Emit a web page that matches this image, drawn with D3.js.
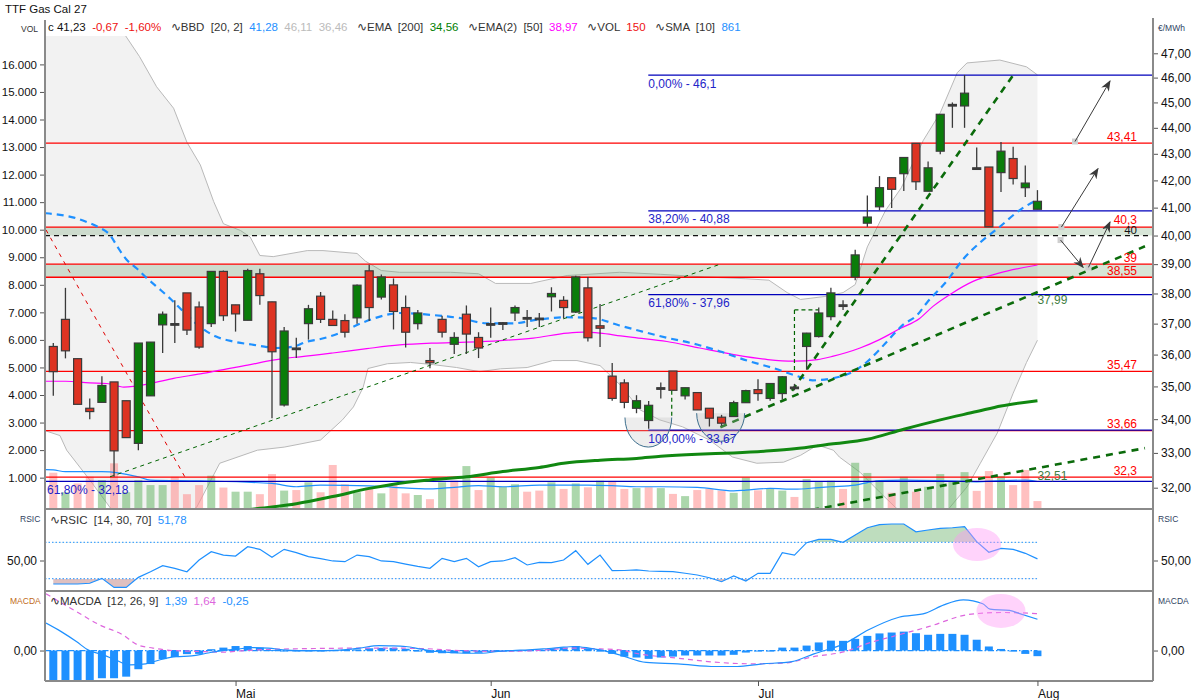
<!DOCTYPE html>
<html>
<head>
<meta charset="utf-8">
<script src="https://cdn.jsdelivr.net/npm/d3@7"></script>
<style>
  body { margin: 0; background: #fff; }
  svg text { font-family: "Liberation Sans", Arial, sans-serif; }
</style>
</head>
<body>
<svg id="chart" width="1200" height="700"></svg>
<script>
// ---- data (x = trading-day index) ----
const title = "TTF Gas Cal 27";
const monthTicks = [15, 36, 58, 81];
const monthLabels = ["Mai", "Jun", "Jul", "Aug"];
const priceTicks = [32, 33, 34, 35, 36, 37, 38, 39, 40, 41, 42, 43, 44, 45, 46, 47];
const volTicks = [1000, 2000, 3000, 4000, 5000, 6000, 7000, 8000, 9000, 10000, 11000, 12000, 13000, 14000, 15000, 16000];

const open = [36.26, 37.14, 35.87, 34.33, 34.51, 35.14, 34.56, 33.28, 34.71, 36.96,
  37.0, 38.02, 37.55, 37.0, 38.75, 37.62, 37.11, 38.67, 37.72, 34.43,
  36.21, 37.0, 37.91, 37.14, 37.10, 37.19, 38.77, 37.88, 38.29, 37.53,
  37.0, 35.81, 37.14, 36.33, 37.31, 36.55, 37.0, 37.0, 37.35, 37.20,
  37.18, 37.89, 37.77, 37.38, 38.19, 36.93, 35.32, 35.11, 34.33, 33.96,
  34.96, 35.48, 34.71, 34.81, 34.33, 34.06, 34.08, 34.5, 34.90, 34.63,
  34.78, 34.98, 36.26, 36.58, 37.23, 37.62, 38.56, 40.44, 41.03, 42.1,
  42.25, 43.4, 41.6, 43.1, 44.92, 44.86, 42.47, 42.5, 42.29, 42.82,
  41.73, 40.94];
const high = [36.37, 38.19, 35.87, 34.63, 35.32, 35.14, 34.56, 36.37, 36.40, 37.40,
  37.77, 38.02, 37.73, 38.75, 38.78, 37.62, 38.84, 38.84, 37.72, 36.89,
  36.54, 37.62, 38.05, 37.43, 37.31, 38.3, 38.98, 38.64, 38.51, 37.93,
  37.45, 36.21, 37.26, 36.72, 37.60, 36.72, 37.53, 37.05, 37.6, 37.45,
  37.35, 38.21, 37.91, 38.6, 38.56, 37.65, 35.73, 35.22, 34.73, 34.55,
  35.12, 35.48, 34.96, 34.81, 34.33, 34.13, 34.56, 34.9, 35.22, 35.1,
  35.32, 35.08, 36.7, 37.53, 38.19, 37.77, 39.5, 41.44, 42.16, 42.1,
  42.86, 43.4, 42.71, 44.53, 45.0, 46.11, 43.24, 42.5, 43.45, 43.27,
  42.56, 41.64];
const low = [34.71, 35.88, 34.45, 34.0, 34.51, 32.31, 33.45, 33.08, 34.71, 36.05,
  36.37, 36.63, 36.19, 36.89, 37.09, 36.74, 37.11, 37.62, 34.03, 34.38,
  35.89, 36.48, 37.02, 36.94, 36.55, 37.0, 37.09, 37.8, 36.81, 36.23,
  36.81, 35.57, 36.55, 36.02, 36.02, 35.89, 36.54, 36.79, 37.09, 36.89,
  36.89, 37.40, 37.17, 37.35, 36.42, 36.24, 34.56, 34.33, 34.18, 33.71,
  34.63, 34.88, 34.6, 34.28, 33.78, 33.8, 34.08, 34.5, 34.56, 34.56,
  34.6, 34.88, 35.52, 36.55, 37.11, 37.45, 38.45, 40.31, 40.90, 40.99,
  41.61, 41.64, 41.6, 42.98, 44.0, 44.0, 42.42, 40.31, 41.57, 41.85,
  41.39, 40.94];
const close = [35.46, 36.12, 34.45, 34.23, 35.03, 33.06, 33.45, 36.37, 36.40, 37.31,
  37.0, 36.79, 36.24, 38.75, 37.26, 37.32, 38.78, 37.93, 36.09, 36.76,
  36.21, 37.49, 37.14, 36.94, 36.72, 38.28, 37.53, 38.56, 37.40, 36.72,
  37.35, 35.74, 36.72, 36.55, 36.66, 36.21, 37.0, 37.03, 37.53, 37.20,
  37.18, 38.0, 37.53, 38.56, 36.54, 36.85, 34.63, 34.51, 34.56, 34.42,
  34.96, 34.88, 34.96, 34.28, 34.03, 33.88, 34.5, 34.87, 34.78, 35.09,
  35.30, 34.98, 36.69, 37.35, 38.02, 37.62, 39.32, 40.66, 41.73, 41.67,
  42.86, 41.95, 42.47, 44.53, 44.86, 45.37, 42.42, 40.31, 43.1, 42.07,
  41.90, 41.23];
const volume = [1180, 470, 790, 1030, 910, 1520, 470, 910, 730, 730,
  1030, 400, 730, 1070, 640, 490, 490, 400, 1130, 530,
  550, 830, 470, 1460, 760, 470, 640, 430, 790, 430,
  370, 220, 830, 890, 1420, 550, 1000, 670, 760, 490,
  530, 830, 590, 790, 650, 890, 880, 590, 620, 650,
  620, 410, 330, 550, 590, 530, 450, 1010, 540, 610,
  530, 300, 950, 840, 890, 590, 1540, 1170, 910, 450,
  1030, 490, 670, 1130, 870, 1200, 520, 1240, 1060, 730,
  1280, 150];

// indicator curves as [index, value] points
const volSma = [[-0.6, 1290], [0, 1280], [1, 1220], [4, 1220], [7, 1030], [8, 910], [12, 880], [18, 790], [20, 670],
  [22, 730], [26, 700], [28, 650], [31, 590], [33, 650], [35, 710], [37, 670], [40, 730], [44, 730], [46, 710],
  [48, 670], [50, 670], [53, 650], [56, 520], [57, 550], [59, 610], [61, 580], [63, 640], [64, 670], [66, 730],
  [67, 820], [68, 890], [70, 910], [73, 890], [76, 850], [78, 890], [80, 910], [81, 861]];
const bbUpper = [[-0.7, 50.5], [3, 49.5], [5.9, 47.77], [7.1, 46.86], [8.5, 45.63], [9.9, 44.77], [11, 43.44],
  [12.1, 42.58], [13.2, 41.22], [14, 40.42], [15.4, 40.18], [16.2, 39.95], [17, 39.3], [18.1, 39.26], [20.9, 39.47],
  [22.2, 39.47], [23.6, 39.42], [25, 39.37], [25.7, 39.1], [27, 38.78], [28.5, 38.72], [32.7, 38.72], [35, 38.67],
  [36.4, 38.34], [39.3, 38.34], [42.3, 38.61], [43.6, 38.64], [46.6, 38.72], [50, 38.65], [53.6, 38.56],
  [57, 38.5], [58.9, 38.45], [60.4, 38.03], [61.5, 37.8], [63.5, 37.9], [65, 38.03], [66, 38.3], [67, 39.6],
  [68.5, 40.9], [69.8, 41.73], [71.6, 43.51], [73, 44.59], [74.4, 46.2], [75.2, 46.6], [77.9, 46.72],
  [80.1, 46.44], [81, 46.11]];
const bbLower = [[-0.7, 33.66], [0.55, 33.51], [1.1, 33.08], [3, 32.22], [4.7, 31.43], [6, 31.0], [9, 30.9],
  [11.8, 31.45], [13.7, 32.7], [16.8, 33.08], [19, 33.17], [20.3, 33.26], [22, 33.38], [23.8, 33.98], [24.7, 34.37],
  [25.5, 34.97], [25.9, 35.56], [27.5, 35.71], [29.4, 35.75], [31.3, 35.68], [33.2, 35.59], [35.1, 35.46],
  [36.8, 35.55], [39, 35.59], [41.1, 35.81], [43.1, 35.81], [45, 35.65], [46.7, 35.03], [48.3, 34.28],
  [49.9, 33.98], [51.8, 33.77], [54, 33.38], [55.9, 32.88], [57.9, 32.7], [60.1, 32.73], [61.5, 32.93],
  [62.9, 33.23], [64.2, 33.08], [64.7, 32.88], [66.4, 32.44], [68, 31.88], [69.3, 31.45], [71, 31.0],
  [72.5, 30.9], [73.8, 31.45], [75.2, 32.02], [76.3, 32.7], [77.7, 33.59], [79, 34.79], [80.1, 35.75], [81, 36.46]];
const bbMid = [[-0.7, 40.8], [0.55, 40.74], [1.6, 40.65], [2.7, 40.49], [3.7, 40.3], [4.7, 40.0], [5.3, 39.59],
  [6, 39.17], [6.9, 38.84], [7.7, 38.52], [8.8, 38.13], [9.7, 37.8], [11, 37.28], [12.1, 36.89], [13.4, 36.58],
  [14.8, 36.42], [16.5, 36.31], [17.6, 36.24], [18.4, 36.21], [19.8, 36.26], [20.9, 36.42], [22, 36.5],
  [23.6, 36.7], [25.5, 37.04], [27.7, 37.31], [28.5, 37.35], [31.3, 37.28], [33.5, 37.18], [35.7, 37.01],
  [37.8, 37.01], [40, 37.14], [42.3, 37.21], [44.4, 37.18], [46.6, 36.94], [48.3, 36.76], [50.5, 36.54],
  [52.7, 36.35], [54.9, 36.1], [57.1, 35.81], [59.2, 35.58], [61.5, 35.29], [62.5, 35.19], [64.7, 35.3],
  [65.8, 35.45], [67, 35.78], [68, 36.16], [68.9, 36.54], [69.9, 36.95], [71.1, 37.28], [71.9, 37.69],
  [73.6, 38.45], [74.9, 39.18], [76.3, 39.76], [77.9, 40.31], [79.6, 40.93], [81, 41.28]];
const ema200 = [[14, 31.3], [17, 31.42], [20, 31.55], [23, 31.75], [26, 31.98], [28, 32.1], [31, 32.22],
  [34, 32.31], [37, 32.46], [40, 32.58], [42, 32.7], [45, 32.79], [48, 32.84], [50, 32.9], [53, 32.96],
  [56, 33.0], [59, 33.06], [61, 33.12], [64, 33.26], [67, 33.4], [70, 33.7], [73, 33.98], [76, 34.23],
  [78, 34.4], [81, 34.56]];
const ema50 = [[-0.7, 35.16], [1, 35.16], [3, 35.11], [4.4, 35.09], [5.8, 34.98], [6.6, 35.0], [8, 35.09],
  [9.9, 35.25], [12.1, 35.39], [14.3, 35.55], [16.2, 35.68], [17.6, 35.79], [19.2, 35.89], [20.3, 35.93],
  [23, 36.05], [25.8, 36.19], [28.5, 36.31], [31.3, 36.37], [34, 36.4], [36.8, 36.45], [39.5, 36.53],
  [42.3, 36.69], [43.6, 36.72], [45, 36.69], [46.7, 36.6], [47.7, 36.55], [50.5, 36.42], [53.2, 36.21],
  [56, 36.0], [58.8, 35.84], [60.9, 35.79], [62.9, 35.84], [64.2, 35.95], [66.4, 36.21], [68, 36.48],
  [69.7, 36.84], [71.3, 37.17], [72.4, 37.57], [74, 38.02], [75.7, 38.41], [77.9, 38.7], [81, 38.97]];

const rsi = [24.2, 24.2, 24.2, 25, 30.4, 20.5, 20.5, 31.5, 37.7, 44.3,
  41.4, 37.7, 50.5, 59.7, 56.0, 54.9, 65.2, 62.3, 53.5, 62.3,
  58.6, 54.2, 52, 49.5, 48.7, 56.0, 54.2, 49.5, 48.7, 46,
  43.5, 41.4, 52.4, 48.7, 52.4, 43.2, 48.7, 49.5, 53.1, 45.1,
  48.0, 47.6, 50.5, 60.8, 45.8, 56.0, 38.8, 39, 39.6, 38.5,
  38, 37.7, 36, 34.1, 31.1, 26.7, 33.0, 27.5, 35.9, 35.9,
  58.6, 56.0, 69.6, 73.3, 73.3, 70.0, 78.0, 86, 89.5, 90.1,
  90.1, 81.6, 83.5, 85.4, 86, 87.1, 70.7, 59.0, 63.4, 62.3,
  57.9, 51.78];
const macdLine = [[-0.6, 1.22], [0.65, 0.84], [1.9, 0.4], [2.85, 0.03], [4.1, -0.19], [5.1, -0.41], [6.3, -0.64],
  [7.6, -0.59], [8.8, -0.41], [10.1, -0.27], [11.4, -0.24], [12.6, -0.12], [13.9, 0], [15.1, 0.06],
  [16.4, 0.13], [17.7, 0.11], [18.9, 0.03], [20.2, 0], [22.9, 0], [23.9, 0.03], [25.2, 0.11], [26.8, 0.22],
  [27.7, 0.21], [29, 0.18], [30.3, 0.06], [31.5, -0.04], [32.8, -0.09], [34, -0.12], [35.3, -0.12],
  [36.6, -0.04], [37.8, 0], [39.1, 0.03], [40.3, 0.07], [41.6, 0.13], [42.9, 0.18], [44.1, 0.11], [45, 0.03],
  [46.6, -0.19], [48.8, -0.53], [51.4, -0.59], [54.5, -0.71], [56.3, -0.71], [58.2, -0.6], [60.8, -0.49],
  [62.6, -0.15], [65.2, 0.33], [67.1, 0.92], [69.6, 1.48], [71.8, 1.66], [73.3, 2.03], [74.9, 2.25],
  [76.5, 2.08], [77.1, 1.84], [78.7, 1.78], [79.6, 1.63], [81, 1.39]];
const macdSignal = [[-0.6, 2.52], [1.9, 1.73], [3.8, 1.14], [5.7, 0.7], [6.95, 0.25], [8.2, 0.11], [9.8, 0],
  [12, -0.04], [13.9, -0.07], [15.8, 0], [18.3, 0.06], [27.1, 0.11], [30.3, 0.09], [33.4, 0], [36.6, -0.04],
  [39.7, 0], [42.9, 0.11], [45, 0.07], [46.6, 0.03], [48.2, -0.15], [51.4, -0.34], [53.9, -0.49],
  [57.6, -0.59], [60.1, -0.56], [62.6, -0.27], [65.2, -0.04], [67.1, 0.33], [69.6, 0.7], [72.1, 1.07],
  [75.2, 1.59], [76.5, 1.66], [78.1, 1.69], [81, 1.64]];
const macdHist = [-1.32, -1.33, -1.35, -1.33, -1.23, -1.23, -1.16, -0.83, -0.6, -0.38,
  -0.29, -0.16, -0.15, 0.06, 0.13, 0.2, 0.2, 0.13, 0.02, -0.02,
  0, 0, 0, 0.03, 0.03, 0.05, 0.1, 0.12, 0.12, 0.08,
  -0.03, -0.1, -0.12, -0.12, -0.12, -0.1, -0.06, 0, 0.01, 0.02,
  0.04, 0.1, 0.13, 0.2, 0.1, 0, -0.15, -0.27, -0.31, -0.37,
  -0.31, -0.27, -0.22, -0.22, -0.22, -0.22, -0.19, -0.09, -0.04, 0,
  0.13, 0.13, 0.22, 0.36, 0.44, 0.43, 0.52, 0.65, 0.76, 0.8,
  0.84, 0.77, 0.7, 0.74, 0.74, 0.7, 0.48, 0.18, 0.07, -0.04,
  -0.15, -0.25];

// drawn levels
const redLevels = [43.41, 40.3, 39, 38.55, 35.47, 33.66, 32.3];
const redLabels = ["43,41", "40,3", "39", "38,55", "35,47", "33,66", "32,3"];
const dashedLevel = 40;
const zones = [[40.0, 40.3], [38.55, 39.0]];
const fibStart = 48.97;
const fibLevels = [46.1, 40.88, 37.96, 33.67];
const fibLabels = ["0,00% - 46,1", "38,20% - 40,88", "61,80% - 37,96", "100,00% - 33,67"];
const oldFibLevel = 32.18;
const oldFibLabel = "61,80% - 32,18";
const thinGreenTrend = [[4.67, 32.31], [54.9, 39.0]];
const thinRedTrend = [[-0.6, 40.2], [10.84, 32.3]];
const thickTrends = [
  [[60.8, 34.87], [79.0, 46.1]],
  [[54.9, 33.76], [89.85, 39.62]],
  [[62.44, 31.38], [89.85, 33.14]]
];
const trendValueLabels = [["37,99", 37.99], ["32,51", 32.51]];
const markerDashes = [
  [[61, 37.45], [61, 35.5]],
  [[61, 37.45], [63, 37.45]],
  [[50.9, 34.87], [50.9, 34.04]]
];
const cups = [[47.05, 50.9, 34.05, 33.17], [52.95, 56.9, 34.18, 33.34]];
const arrows = [
  [[84.09, 43.47], [86.97, 45.86]],
  [[82.97, 40.3], [85.98, 42.44]],
  [[82.9, 39.84], [84.76, 38.89]],
  [[85.2, 38.89], [86.97, 40.48]]
];
const rsiMark = [76.03, 67.6];
const macdMark = [78.0, 1.76];

// ---- layout ----
const left = 45, right = 1153;
const mainTop = 36, mainBottom = 508;
const rsiTop = 510, rsiBottom = 590;
const macdTop = 592, macdBottom = 680;

const x = d3.scaleLinear().domain([0, 81]).range([53.3, 1037.45]);
const yP = d3.scaleLog().domain([31.43, 48.62]).range([508, 15]);
const yV = d3.scaleLinear().domain([0, 16000]).range([505.2, 64.4]);
const yR = d3.scaleLinear().domain([16.5, 105.5]).range([591, 510]);
const yM = d3.scaleLinear().domain([-1.353, 2.6]).range([681, 592]);

const comma2 = (d) => d3.format(".2f")(d).replace(".", ",");
const svg = d3.select("#chart");
const defs = svg.append("defs");

function clip(id, y0, y1) {
  defs.append("clipPath").attr("id", id)
    .append("rect").attr("x", left + 1).attr("y", y0)
    .attr("width", right - left - 2).attr("height", y1 - y0);
}
clip("clip-main", mainTop, mainBottom);
clip("clip-rsi", rsiTop, rsiBottom);
clip("clip-macd", macdTop, macdBottom);

defs.append("marker").attr("id", "head")
  .attr("viewBox", "0 0 10 8").attr("refX", 9).attr("refY", 4)
  .attr("markerWidth", 11).attr("markerHeight", 9)
  .attr("markerUnits", "userSpaceOnUse").attr("orient", "auto")
  .append("path").attr("d", "M0,0 L10,4 L0,8 L3,4 z").attr("fill", "#3a3a3a");

const main = svg.append("g").attr("clip-path", "url(#clip-main)");
const lineP = d3.line().x((d) => x(d[0])).y((d) => yP(d[1]));
const lineSmooth = d3.line().x((d) => x(d[0])).y((d) => yP(d[1])).curve(d3.curveMonotoneX);

// bollinger band
const bandPts = bbUpper.concat(bbLower.slice().reverse());
main.append("path").attr("d", lineP(bandPts) + "Z").attr("fill", "#f2f2f2");
[bbUpper, bbLower].forEach((b) => {
  main.append("path").attr("d", lineP(b)).attr("fill", "none")
    .attr("stroke", "#b9b9b9").attr("stroke-width", 1);
});

// zones
zones.forEach(([lo, hi]) => {
  main.append("rect").attr("x", left).attr("width", right - left)
    .attr("y", yP(hi)).attr("height", yP(lo) - yP(hi))
    .attr("fill", "rgba(110,160,110,0.28)");
});

// volume bars
const candles = open.map((o, i) => ({
  i, o, h: high[i], l: low[i], c: close[i], v: volume[i],
  up: i === 0 ? false : close[i] >= close[i - 1],
}));
main.selectAll("rect.vol").data(candles).join("rect").attr("class", "vol")
  .attr("x", (d) => x(d.i) - 4).attr("width", 8)
  .attr("y", (d) => yV(d.v)).attr("height", (d) => mainBottom + 1 - yV(d.v))
  .attr("fill", (d) => (d.up ? "rgba(90,175,90,0.5)" : "rgba(255,140,140,0.55)"));

main.append("path")
  .attr("d", d3.line().x((d) => x(d[0])).y((d) => yV(d[1])).curve(d3.curveMonotoneX)(volSma))
  .attr("fill", "none").attr("stroke", "#1e90ff").attr("stroke-width", 1.2);

// horizontal levels
redLevels.forEach((lv) => {
  main.append("line").attr("x1", left).attr("x2", right)
    .attr("y1", yP(lv)).attr("y2", yP(lv))
    .attr("stroke", "#ff0000").attr("stroke-width", 1.3);
});
main.append("line").attr("x1", left).attr("x2", right)
  .attr("y1", yP(dashedLevel)).attr("y2", yP(dashedLevel))
  .attr("stroke", "#111").attr("stroke-width", 1.3).attr("stroke-dasharray", "5,4");
fibLevels.forEach((lv) => {
  main.append("line").attr("x1", x(fibStart)).attr("x2", right)
    .attr("y1", yP(lv)).attr("y2", yP(lv))
    .attr("stroke", "#0000bb").attr("stroke-width", 1.2);
});
main.append("line").attr("x1", left).attr("x2", right)
  .attr("y1", yP(oldFibLevel)).attr("y2", yP(oldFibLevel))
  .attr("stroke", "#0000bb").attr("stroke-width", 1.2);

// moving averages
main.append("path").attr("d", lineSmooth(ema200)).attr("fill", "none")
  .attr("stroke", "#118811").attr("stroke-width", 3);
main.append("path").attr("d", lineSmooth(ema50)).attr("fill", "none")
  .attr("stroke", "#ff00ff").attr("stroke-width", 1.2);
main.append("path").attr("d", lineSmooth(bbMid)).attr("fill", "none")
  .attr("stroke", "#1e90ff").attr("stroke-width", 2.2).attr("stroke-dasharray", "7,5");

// trend lines and drawings
main.append("path").attr("d", lineP(thinGreenTrend)).attr("stroke", "#006400")
  .attr("stroke-width", 1).attr("stroke-dasharray", "4,4").attr("fill", "none");
main.append("path").attr("d", lineP(thinRedTrend)).attr("stroke", "#e00000")
  .attr("stroke-width", 1).attr("stroke-dasharray", "4,5").attr("fill", "none");
thickTrends.forEach((t) => {
  main.append("path").attr("d", lineP(t)).attr("stroke", "#0b6b0b")
    .attr("stroke-width", 2.6).attr("stroke-dasharray", "7,6").attr("fill", "none");
});
markerDashes.forEach((t) => {
  main.append("path").attr("d", lineP(t)).attr("stroke", "#006400")
    .attr("stroke-width", 1.2).attr("stroke-dasharray", "4,3").attr("fill", "none");
});
cups.forEach(([i0, i1, pTop, pBot]) => {
  const x0 = x(i0), x1 = x(i1), yt = yP(pTop), yb = yP(pBot);
  const rx = (x1 - x0) / 2, ry = yb - yt;
  main.append("path")
    .attr("d", `M${x0},${yt} A${rx},${ry} 0 0 0 ${x1},${yt}`)
    .attr("fill", "rgba(190,190,190,0.28)")
    .attr("stroke", "#3d6f8e").attr("stroke-width", 1);
});

// candles
const cg = main.append("g");
cg.selectAll("line").data(candles).join("line")
  .attr("x1", (d) => x(d.i)).attr("x2", (d) => x(d.i))
  .attr("y1", (d) => yP(d.h)).attr("y2", (d) => yP(d.l))
  .attr("stroke", "#3a3a3a").attr("stroke-width", 1.3);
cg.selectAll("rect").data(candles).join("rect")
  .attr("x", (d) => x(d.i) - 4).attr("width", 8)
  .attr("y", (d) => yP(Math.max(d.o, d.c)))
  .attr("height", (d) => Math.max(1.6, yP(Math.min(d.o, d.c)) - yP(Math.max(d.o, d.c))))
  .attr("fill", (d) => {
    const hgt = yP(Math.min(d.o, d.c)) - yP(Math.max(d.o, d.c));
    if (hgt < 1.6) return "#3a3a3a";
    return d.c >= d.o ? "#0a7d0a" : "#dd3322";
  })
  .attr("stroke", "#3a3a3a").attr("stroke-width", 1.2);

// arrows
arrows.forEach(([a, b]) => {
  main.append("rect").attr("x", x(a[0]) - 3).attr("y", yP(a[1]) - 3)
    .attr("width", 6).attr("height", 6).attr("fill", "#cfcfcf");
  main.append("line").attr("x1", x(a[0])).attr("y1", yP(a[1]))
    .attr("x2", x(b[0])).attr("y2", yP(b[1]))
    .attr("stroke", "#3a3a3a").attr("stroke-width", 1).attr("marker-end", "url(#head)");
});

// level labels
const labels = svg.append("g").attr("font-size", 12);
redLevels.forEach((lv, i) => {
  labels.append("text").attr("x", 1137).attr("y", yP(lv) - (lv === 40.3 ? 3.5 : 2.5))
    .attr("text-anchor", "end").attr("fill", "#ff0000").text(redLabels[i]);
});
labels.append("text").attr("x", 1137).attr("y", yP(dashedLevel) - 1.2)
  .attr("font-size", 11.5).attr("text-anchor", "end").attr("fill", "#111").text("40");
fibLevels.forEach((lv, i) => {
  labels.append("text").attr("x", x(fibStart)).attr("y", yP(lv) + 12.5)
    .attr("fill", "#2323c8").text(fibLabels[i]);
});
labels.append("text").attr("x", left + 2).attr("y", yP(oldFibLevel) + 12.5)
  .attr("fill", "#2323c8").text(oldFibLabel);
trendValueLabels.forEach(([t, v]) => {
  labels.append("text").attr("x", x(81)).attr("y", yP(v) + 10.5)
    .attr("fill", "#3f7d3f").text(t);
});

// ---- RSI panel ----
const rsiG = svg.append("g").attr("clip-path", "url(#clip-rsi)");
const rsiPts = rsi.map((v, i) => [i, v]);
const rsiX = (d) => x(d[0]);
defs.append("clipPath").attr("id", "above70").append("rect")
  .attr("x", left).attr("y", rsiTop).attr("width", right - left).attr("height", yR(70) - rsiTop);
defs.append("clipPath").attr("id", "below30").append("rect")
  .attr("x", left).attr("y", yR(30)).attr("width", right - left).attr("height", rsiBottom - yR(30));
rsiG.append("path")
  .attr("d", d3.area().x(rsiX).y0(yR(70)).y1((d) => yR(d[1]))(rsiPts))
  .attr("fill", "rgba(110,180,110,0.45)").attr("clip-path", "url(#above70)");
rsiG.append("path")
  .attr("d", d3.area().x(rsiX).y0(yR(30)).y1((d) => yR(d[1]))(rsiPts))
  .attr("fill", "rgba(170,90,90,0.38)").attr("clip-path", "url(#below30)");
[70, 30].forEach((lv) => {
  rsiG.append("line").attr("x1", left).attr("x2", x(81))
    .attr("y1", yR(lv)).attr("y2", yR(lv))
    .attr("stroke", "#1e90ff").attr("stroke-width", 1).attr("stroke-dasharray", "1.5,2");
});
rsiG.append("path").attr("d", d3.line().x(rsiX).y((d) => yR(d[1]))(rsiPts))
  .attr("fill", "none").attr("stroke", "#1e90ff").attr("stroke-width", 1.2);
rsiG.append("ellipse").attr("cx", x(rsiMark[0])).attr("cy", yR(rsiMark[1]))
  .attr("rx", 24).attr("ry", 16.5).attr("fill", "rgba(255,150,245,0.42)");

// ---- MACD panel ----
const macdG = svg.append("g").attr("clip-path", "url(#clip-macd)");
macdG.append("line").attr("x1", left).attr("x2", x(81))
  .attr("y1", yM(0)).attr("y2", yM(0))
  .attr("stroke", "#1e90ff").attr("stroke-width", 1.2).attr("stroke-dasharray", "6,2,1.5,2");
macdG.selectAll("rect").data(macdHist).join("rect")
  .attr("x", (d, i) => x(i) - 4).attr("width", 8)
  .attr("y", (d) => yM(Math.max(0, d)))
  .attr("height", (d) => Math.max(1, Math.abs(yM(d) - yM(0))))
  .attr("fill", "#1e90ff");
macdG.append("path")
  .attr("d", d3.line().x((d) => x(d[0])).y((d) => yM(d[1])).curve(d3.curveMonotoneX)(macdSignal))
  .attr("fill", "none").attr("stroke", "#dd66dd").attr("stroke-width", 1.2).attr("stroke-dasharray", "5,4");
macdG.append("path")
  .attr("d", d3.line().x((d) => x(d[0])).y((d) => yM(d[1])).curve(d3.curveMonotoneX)(macdLine))
  .attr("fill", "none").attr("stroke", "#1e90ff").attr("stroke-width", 1.2);
macdG.append("ellipse").attr("cx", x(macdMark[0])).attr("cy", yM(macdMark[1]))
  .attr("rx", 24.5).attr("ry", 17).attr("fill", "rgba(255,150,245,0.42)");

// ---- frame and axes ----
const frame = svg.append("g").attr("stroke", "#8a8a8a").attr("stroke-width", 2);
frame.append("line").attr("x1", left).attr("x2", left).attr("y1", 20).attr("y2", 681);
frame.append("line").attr("x1", right).attr("x2", right).attr("y1", 18).attr("y2", 681);
[509, 591, 681].forEach((yy) => {
  frame.append("line").attr("x1", left).attr("x2", right).attr("y1", yy).attr("y2", yy);
});

function styleAxis(g, size) {
  g.select(".domain").remove();
  g.selectAll(".tick line").attr("stroke", "#555");
  g.selectAll(".tick text").attr("fill", "#111").attr("font-size", size)
    .attr("font-family", "Liberation Sans, Arial, sans-serif");
}
svg.append("g").attr("transform", `translate(${right + 1},0)`)
  .call(d3.axisRight(yP).tickValues(priceTicks).tickSize(4).tickFormat(comma2))
  .call(styleAxis, 12);
svg.append("g").attr("transform", `translate(${left - 1},0)`)
  .call(d3.axisLeft(yV).tickValues(volTicks).tickSize(4)
    .tickFormat((d) => d3.format(",")(d).replace(/,/g, ".")))
  .call(styleAxis, 11.5);
[[yR, 50], [yM, 0]].forEach(([sc, v]) => {
  svg.append("g").attr("transform", `translate(${left - 1},0)`)
    .call(d3.axisLeft(sc).tickValues([v]).tickSize(4).tickFormat(comma2)).call(styleAxis, 12);
  svg.append("g").attr("transform", `translate(${right + 1},0)`)
    .call(d3.axisRight(sc).tickValues([v]).tickSize(4).tickFormat(comma2)).call(styleAxis, 12);
});
const xAxis = svg.append("g").attr("transform", "translate(0,681)")
  .call(d3.axisBottom(x).tickValues(monthTicks).tickSize(5).tickFormat((d, i) => monthLabels[i]))
  .call(styleAxis, 12);
xAxis.selectAll(".tick text").attr("text-anchor", "start").attr("x", 0);

// ---- small captions and headers ----
const cap = svg.append("g").attr("font-size", 8.5).attr("fill", "#333");
cap.append("text").attr("x", 21).attr("y", 32).text("VOL");
cap.append("text").attr("x", 20).attr("y", 522).attr("fill", "#2f3f5f").text("RSIC");
cap.append("text").attr("x", 10).attr("y", 604).attr("fill", "#c06a20").text("MACDA");
cap.append("text").attr("x", 1158).attr("y", 31).attr("fill", "#2f3f5f").text("€/MWh");
cap.append("text").attr("x", 1158).attr("y", 522).attr("fill", "#2f3f5f").text("RSIC");
cap.append("text").attr("x", 1158).attr("y", 604).attr("fill", "#2f3f5f").text("MACDA");

svg.append("text").attr("x", 5).attr("y", 13).attr("font-size", 11.5).attr("fill", "#111").text(title);

function header(xPos, yPos, parts) {
  const t = svg.append("text").attr("x", xPos).attr("y", yPos).attr("font-size", 11.5)
    .attr("xml:space", "preserve");
  parts.forEach(([s, col]) => t.append("tspan").attr("fill", col).text(s));
}
const dark = "#333";
header(48, 31, [
  ["c 41,23  ", "#111"], ["-0,67  -1,60%   ", "#ee1111"],
  ["∿BBD  [20, 2]  ", dark], ["41,28  ", "#1e90ff"], ["46,11  36,46   ", "#bbbbbb"],
  ["∿EMA  [200]  ", dark], ["34,56   ", "#008000"],
  ["∿EMA(2)  [50]  ", dark], ["38,97   ", "#ff00ff"],
  ["∿VOL  ", dark], ["150   ", "#ee1111"],
  ["∿SMA  [10]  ", dark], ["861", "#1e90ff"]
]);
header(50, 524, [["∿RSIC  [14, 30, 70]  ", dark], ["51,78", "#1e90ff"]]);
header(50, 605, [["∿MACDA  [12, 26, 9]  ", dark], ["1,39  ", "#1e90ff"], ["1,64  ", "#dd66dd"], ["-0,25", "#1e90ff"]]);
</script>
</body>
</html>
